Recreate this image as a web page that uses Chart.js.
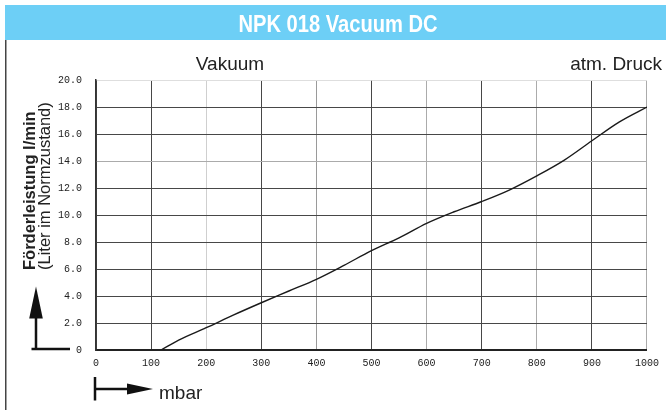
<!DOCTYPE html>
<html>
<head>
<meta charset="utf-8">
<script src="https://cdn.jsdelivr.net/npm/chart.js@4"></script>
<style>
  html, body { margin: 0; padding: 0; background: #fff; }
  #wrap { width: 666px; height: 410px; }
</style>
</head>
<body>
<div id="wrap"><canvas id="pumpChart" width="666" height="410"></canvas></div>
<script>
// Daten
const title = 'NPK 018 Vacuum DC';
const mbar = [118, 150, 200, 250, 300, 350, 400, 450, 500, 550, 600, 650, 700, 750, 800, 850, 900, 950, 1000];
const flow = [0, 0.74, 1.65, 2.6, 3.5, 4.37, 5.24, 6.27, 7.36, 8.3, 9.38, 10.24, 11.0, 11.85, 12.9, 14.07, 15.5, 16.9, 18.0];
const xTicks = [0, 100, 200, 300, 400, 500, 600, 700, 800, 900, 1000];
const yTicks = [0, 2, 4, 6, 8, 10, 12, 14, 16, 18, 20];

// Gitterfarben (hell/dunkel wie im Original)
function xGridColor(c) {
  const v = c.tick ? c.tick.value : 0;
  if (v === 200) return '#cfcfcf';
  if (v === 400) return '#9a9a9a';
  if (v === 600 || v === 800 || v === 1000) return '#ababab';
  return '#474747';
}
function yGridColor(c) {
  const v = c.tick ? c.tick.value : 0;
  if (v === 20) return '#dedede';
  if (v === 14) return '#ababab';
  return '#474747';
}

// Überschrift, Achsentitel und Pfeile
const decor = {
  id: 'decor',
  beforeDraw(chart) {
    const ctx = chart.ctx;
    ctx.save();
    ctx.fillStyle = '#fff';
    ctx.fillRect(0, 0, 666, 410);
    ctx.fillStyle = '#6dcff6';
    ctx.fillRect(5, 5, 661, 35);
    ctx.strokeStyle = '#444';
    ctx.lineWidth = 1.5;
    ctx.beginPath();
    ctx.moveTo(5.75, 40);
    ctx.lineTo(5.75, 410);
    ctx.stroke();
    ctx.restore();
  },
  afterDraw(chart) {
    const ctx = chart.ctx;
    ctx.save();
    // Titel
    ctx.fillStyle = '#fff';
    ctx.font = 'bold 23px "Liberation Sans", Arial, sans-serif';
    ctx.textAlign = 'center';
    ctx.textBaseline = 'alphabetic';
    ctx.translate(338, 31.5);
    ctx.scale(0.875, 1);
    ctx.fillText(title, 0, 0);
    ctx.restore();

    ctx.save();
    ctx.fillStyle = '#222';
    ctx.font = '19px "Liberation Sans", Arial, sans-serif';
    ctx.textBaseline = 'alphabetic';
    ctx.textAlign = 'center';
    ctx.fillText('Vakuum', 230, 69.5);
    ctx.textAlign = 'right';
    ctx.fillText('atm. Druck', 662, 69.5);
    ctx.textAlign = 'left';
    ctx.fillText('mbar', 159, 398.5);

    // y-Achsentitel (gedreht)
    ctx.save();
    ctx.translate(34.5, 270);
    ctx.rotate(-Math.PI / 2);
    ctx.font = 'bold 16.5px "Liberation Sans", Arial, sans-serif';
    ctx.fillText('Förderleistung l/min', 0, 0);
    ctx.restore();
    ctx.save();
    ctx.translate(50, 270);
    ctx.rotate(-Math.PI / 2);
    ctx.font = '16.5px "Liberation Sans", Arial, sans-serif';
    ctx.fillText('(Liter im Normzustand)', 0, 0);
    ctx.restore();

    // Pfeil nach oben
    ctx.strokeStyle = '#111';
    ctx.fillStyle = '#111';
    ctx.lineWidth = 2.5;
    ctx.beginPath();
    ctx.moveTo(31.5, 349);
    ctx.lineTo(70, 349);
    ctx.moveTo(36, 349);
    ctx.lineTo(36, 315);
    ctx.stroke();
    ctx.beginPath();
    ctx.moveTo(36, 286.5);
    ctx.lineTo(42.8, 318.5);
    ctx.lineTo(29.2, 318.5);
    ctx.closePath();
    ctx.fill();

    // Pfeil nach rechts
    ctx.beginPath();
    ctx.moveTo(95, 377);
    ctx.lineTo(95, 400.5);
    ctx.moveTo(95, 389);
    ctx.lineTo(130, 389);
    ctx.stroke();
    ctx.beginPath();
    ctx.moveTo(153, 389);
    ctx.lineTo(127, 383.5);
    ctx.lineTo(127, 394.5);
    ctx.closePath();
    ctx.fill();
    ctx.restore();
  }
};

const ctx = document.getElementById('pumpChart').getContext('2d');
const pumpChart = new Chart(ctx, {
  type: 'scatter',
  data: {
    datasets: [{
      data: mbar.map((x, i) => ({ x: x, y: flow[i] })),
      showLine: true,
      borderColor: '#1a1a1a',
      borderWidth: 1.4,
      pointRadius: 0,
      tension: 0.4,
      cubicInterpolationMode: 'monotone'
    }]
  },
  options: {
    responsive: false,
    animation: false,
    events: [],
    layout: { padding: { left: 0, top: 80, right: 16, bottom: 0 } },
    plugins: { legend: { display: false }, tooltip: { enabled: false } },
    scales: {
      x: {
        type: 'linear',
        min: 0,
        max: 1000,
        afterFit(scale) { scale.height = 60; },
        afterBuildTicks(scale) { scale.ticks = xTicks.map(v => ({ value: v })); },
        grid: { color: xGridColor, lineWidth: 1, drawTicks: false },
        border: { color: '#222', width: 2 },
        ticks: {
          padding: 7,
          color: '#222',
          font: { family: '"Liberation Mono", "DejaVu Sans Mono", monospace', size: 10 },
          maxRotation: 0,
          autoSkip: false,
          callback: v => String(v)
        }
      },
      y: {
        min: 0,
        max: 20,
        afterFit(scale) { scale.width = 96; },
        afterBuildTicks(scale) { scale.ticks = yTicks.map(v => ({ value: v })); },
        grid: { color: yGridColor, lineWidth: 1, drawTicks: false },
        border: { color: '#333', width: 1.5 },
        ticks: {
          padding: 14,
          color: '#222',
          font: { family: '"Liberation Mono", "DejaVu Sans Mono", monospace', size: 10 },
          autoSkip: false,
          callback: v => v === 0 ? '0' : v.toFixed(1)
        }
      }
    }
  },
  plugins: [decor]
});
</script>
</body>
</html>
